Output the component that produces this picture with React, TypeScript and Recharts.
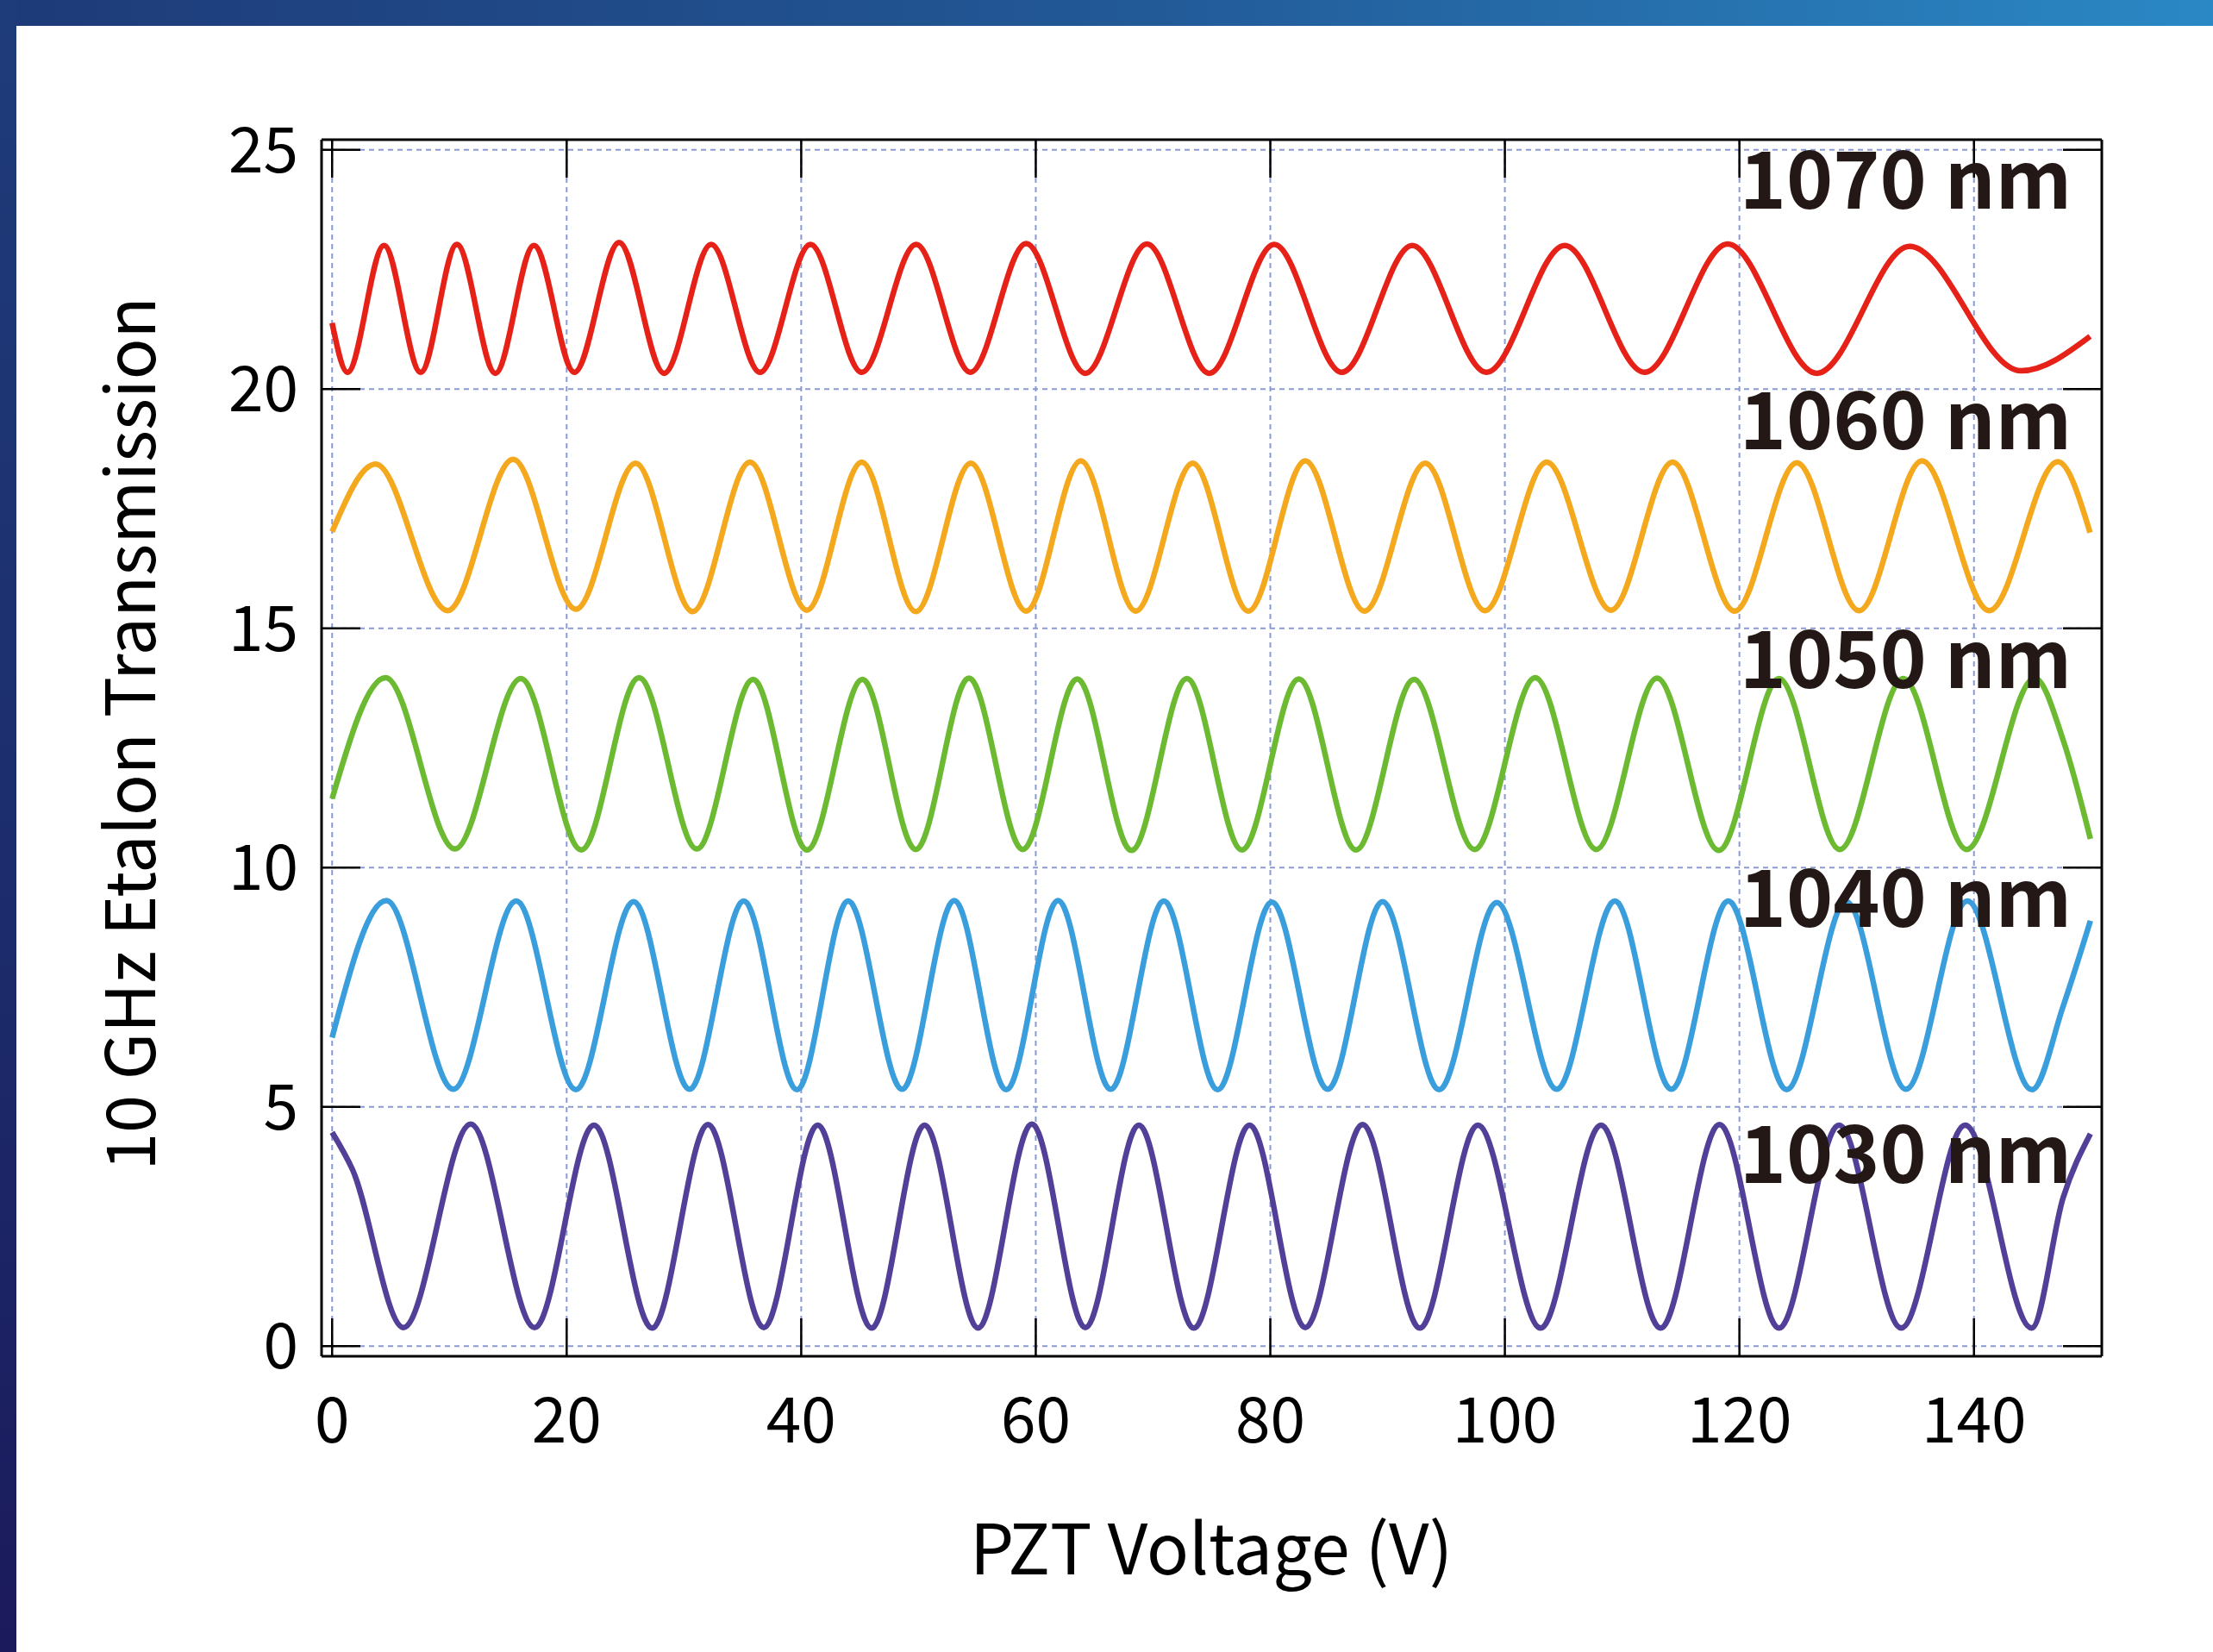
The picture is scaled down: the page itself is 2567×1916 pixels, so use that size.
import { LineChart, Line, XAxis, YAxis, CartesianGrid, ReferenceDot } from 'recharts'

const FONT = '"Noto Sans CJK JP", "Noto Sans", sans-serif'

const X_TICKS = [0, 20, 40, 60, 80, 100, 120, 140]
const Y_TICKS = [0, 5, 10, 15, 20, 25]

// turning points: PZT voltage (V) and transmission (offset units)
const V_1070 = [0, 1.31, 4.43, 7.55, 10.64, 13.92, 17.21, 20.66, 24.47, 28.31, 32.32, 36.49, 40.79, 45.16, 49.8, 54.43, 59.18, 64.23, 69.48, 74.79, 80.33, 86.1, 92.1, 98.43, 105.1, 111.9, 119.0, 126.6, 134.5, 144.0, 149.9]
const T_1070 = [21.38, 20.35, 23.0, 20.35, 23.02, 20.33, 23.0, 20.35, 23.06, 20.33, 23.02, 20.35, 23.02, 20.35, 23.02, 20.35, 23.04, 20.33, 23.03, 20.33, 23.02, 20.35, 23.0, 20.35, 23.0, 20.35, 23.03, 20.33, 22.98, 20.38, 21.1]

const V_1060 = [0, 3.71, 9.85, 15.43, 20.79, 25.88, 30.74, 35.63, 40.49, 45.16, 49.77, 54.46, 59.18, 63.84, 68.52, 73.38, 78.13, 82.98, 88.03, 93.21, 98.3, 103.57, 109.05, 114.3, 119.6, 124.9, 130.2, 135.57, 141.3, 147.15, 149.9]
const T_1060 = [17.02, 18.43, 15.37, 18.53, 15.4, 18.45, 15.35, 18.47, 15.38, 18.47, 15.35, 18.45, 15.36, 18.5, 15.36, 18.45, 15.36, 18.5, 15.36, 18.45, 15.37, 18.47, 15.38, 18.47, 15.36, 18.46, 15.37, 18.5, 15.37, 18.48, 17.0]

const V_1050 = [0, 4.56, 10.48, 16.09, 21.25, 26.17, 31.1, 35.9, 40.49, 45.22, 49.77, 54.3, 58.89, 63.54, 68.16, 72.89, 77.57, 82.43, 87.31, 92.26, 97.41, 102.59, 107.8, 112.98, 118.23, 123.38, 128.56, 133.97, 139.38, 145.18, 147.64, 149.93]
const T_1050 = [11.44, 13.97, 10.39, 13.95, 10.37, 13.97, 10.39, 13.93, 10.37, 13.93, 10.38, 13.96, 10.38, 13.94, 10.36, 13.95, 10.37, 13.94, 10.37, 13.93, 10.38, 13.97, 10.38, 13.96, 10.36, 13.95, 10.38, 13.95, 10.38, 13.96, 12.64, 10.6]

const V_1040 = [0, 4.63, 10.34, 15.7, 20.79, 25.71, 30.48, 35.1, 39.64, 44.0, 48.6, 53.05, 57.48, 61.9, 66.39, 70.92, 75.51, 80.13, 84.89, 89.57, 94.39, 99.31, 104.43, 109.38, 114.2, 119.05, 124.03, 129.11, 134.2, 139.44, 144.95, 147.6, 149.93]
const T_1040 = [6.45, 9.31, 5.37, 9.3, 5.36, 9.29, 5.37, 9.3, 5.36, 9.3, 5.37, 9.31, 5.36, 9.31, 5.37, 9.3, 5.36, 9.28, 5.37, 9.29, 5.36, 9.27, 5.37, 9.3, 5.37, 9.3, 5.36, 9.29, 5.37, 9.3, 5.36, 7.1, 8.89]

const V_1030 = [0, 1.74, 6.08, 11.82, 17.27, 22.33, 27.29, 32.05, 36.81, 41.41, 46.0, 50.52, 55.08, 59.67, 64.23, 68.79, 73.48, 78.23, 82.98, 87.87, 92.75, 97.7, 103.05, 108.2, 113.28, 118.3, 123.38, 128.49, 133.8, 139.25, 144.92, 147.6, 149.93]
const T_1030 = [4.47, 3.69, 0.39, 4.64, 0.39, 4.62, 0.38, 4.63, 0.39, 4.62, 0.38, 4.62, 0.38, 4.64, 0.39, 4.62, 0.38, 4.62, 0.39, 4.63, 0.38, 4.62, 0.38, 4.62, 0.38, 4.63, 0.38, 4.62, 0.38, 4.62, 0.38, 3.1, 4.44]

const LABELS = ['1070 nm', '1060 nm', '1050 nm', '1040 nm', '1030 nm']
const LABEL_Y = [23.77, 18.74, 13.75, 8.76, 3.42]
const LABEL_X = 120

const zip = (v: number[], t: number[]) => v.map((x, i) => ({ v: x, t: t[i] }))

const SERIES = [
  { name: '1070 nm', data: zip(V_1070, T_1070), color: '#e62117' },
  { name: '1060 nm', data: zip(V_1060, T_1060), color: '#f4a81d' },
  { name: '1050 nm', data: zip(V_1050, T_1050), color: '#6cb932' },
  { name: '1040 nm', data: zip(V_1040, T_1040), color: '#3a9edc' },
  { name: '1030 nm', data: zip(V_1030, T_1030), color: '#523f97' },
]

const X_DOMAIN = [-0.9, 150.9]
const Y_DOMAIN = [-0.21, 25.21]

// inner tick marks only, no labels
const noLabel = () => <g />
const TICK_LINE = { stroke: '#000', strokeWidth: 2.5 }
const FRAME = { stroke: '#000', strokeWidth: 3 }

export default function App() {
  return (
    <div style={{ position: 'absolute', left: 0, top: 0, width: 2567, height: 1916, background: '#fff', overflow: 'hidden' }}>
      <div style={{ position: 'absolute', left: 0, top: 0, width: 2567, height: 30, background: 'linear-gradient(90deg, #1e3a78 0%, #225896 50%, #2a88c4 100%)' }} />
      <div style={{ position: 'absolute', left: 0, top: 0, width: 19, height: 1916, background: 'linear-gradient(180deg, #1f3c7a 0%, #1c2a6a 60%, #1b1a5c 100%)' }} />
      <div style={{ position: 'absolute', left: 0, top: 0 }}>
        <LineChart width={2567} height={1916} margin={{ top: 162, right: 129, left: 273, bottom: 243 }}>
          <CartesianGrid xAxisId="x" yAxisId="y" stroke="#8c9ad4" strokeWidth={2} strokeDasharray="6 5" />
          <XAxis
            xAxisId="x" type="number" dataKey="v" domain={X_DOMAIN} ticks={X_TICKS} allowDataOverflow
            height={100} tickSize={0} tickMargin={48} tickLine={false} axisLine={FRAME}
            tick={{ fontSize: 73, fill: '#000', fontFamily: FONT }}
          />
          <XAxis
            xAxisId="xin" type="number" dataKey="v" domain={X_DOMAIN} ticks={X_TICKS} allowDataOverflow
            mirror tick={noLabel} tickSize={44} axisLine={false} tickLine={TICK_LINE}
          />
          <XAxis
            xAxisId="xtop" orientation="top" type="number" dataKey="v" domain={X_DOMAIN} ticks={X_TICKS} allowDataOverflow
            mirror tick={noLabel} tickSize={44} axisLine={FRAME} tickLine={TICK_LINE}
          />
          <YAxis
            yAxisId="y" type="number" domain={Y_DOMAIN} ticks={Y_TICKS} allowDataOverflow
            width={100} tickSize={0} tickMargin={27} tickLine={false} axisLine={FRAME}
            tick={{ fontSize: 73, fill: '#000', fontFamily: FONT }}
          />
          <YAxis
            yAxisId="yin" type="number" domain={Y_DOMAIN} ticks={Y_TICKS} allowDataOverflow
            mirror tick={noLabel} tickSize={45} axisLine={false} tickLine={TICK_LINE}
          />
          <YAxis
            yAxisId="yr" orientation="right" type="number" domain={Y_DOMAIN} ticks={Y_TICKS} allowDataOverflow
            mirror tick={noLabel} tickSize={45} axisLine={FRAME} tickLine={TICK_LINE}
          />
          {SERIES.map(s => (
            <Line
              key={s.name} xAxisId="x" yAxisId="y" data={s.data} dataKey="t" type="monotone"
              stroke={s.color} strokeWidth={6.5} dot={false} activeDot={false} isAnimationActive={false}
            />
          ))}
          {LABELS.map((label, i) => (
            <ReferenceDot
              key={label} xAxisId="x" yAxisId="y" x={LABEL_X} y={LABEL_Y[i]} r={0}
              shape={(p: any) => (
                <text x={p.cx} y={p.cy} fontFamily={FONT} fontWeight={700} fontSize={92} fill="#231815">
                  {label}
                </text>
              )}
            />
          ))}
        </LineChart>
      </div>
      <svg width={2567} height={1916} style={{ position: 'absolute', left: 0, top: 0, pointerEvents: 'none' }}>
        <text x={1405} y={1826} textAnchor="middle" fontFamily={FONT} fontSize={81} fill="#000">
          PZT Voltage (V)
        </text>
        <text x={180} y={851} textAnchor="middle" fontFamily={FONT} fontSize={79} fill="#000" transform="rotate(-90, 180, 851)">
          10 GHz Etalon Transmission
        </text>
      </svg>
    </div>
  )
}
